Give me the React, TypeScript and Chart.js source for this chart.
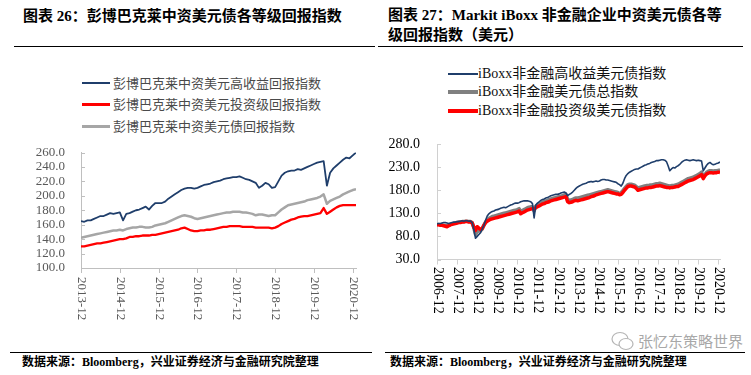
import React, { useEffect, useRef } from "react";
import { Chart, registerables } from "chart.js";
Chart.register(...registerables);

// ---------- Left chart data (monthly, 2013-12 .. 2021-01) ----------
const leftTitle = "图表 26：彭博巴克莱中资美元债各等级回报指数";
const leftNames = ["彭博巴克莱中资美元高收益回报指数", "彭博巴克莱中资美元投资级回报指数", "彭博巴克莱中资美元债回报指数"];
const leftXLabels = ["2013-12", "2014-12", "2015-12", "2016-12", "2017-12", "2018-12", "2019-12", "2020-12"];
const leftHY = [
  165, 164, 166, 166, 168, 170, 172, 172, 174, 176, 175, 176,
  177, 166, 175, 176, 178, 180, 181, 183, 185, 181, 186, 190,
  190, 190, 192, 196, 199, 202, 205, 208, 210, 211, 211, 210,
  211, 213, 215, 216, 217, 219, 220, 221, 223, 224, 225, 226,
  226, 227, 225, 223, 222, 220, 218, 211, 214, 218, 216, 211,
  212, 220, 228, 232, 234, 235, 235, 237, 236, 238, 240, 242,
  244, 246, 247, 248, 214, 232, 238, 242, 246, 250, 253, 252,
  256, 260,
];
const leftIG = [
  130, 130, 131, 132, 133, 134, 134, 135, 136, 137, 138, 139,
  140, 140, 141, 143, 143, 144, 144, 145, 145, 145, 146, 146,
  147, 148, 149, 150, 151, 152, 153, 155, 156, 154, 152, 151,
  151, 152, 152, 153, 153, 154, 155, 156, 157, 157, 158, 158,
  158, 158, 157, 157, 157, 157, 156, 156, 156, 156, 156, 155,
  156, 158, 161, 163, 165, 167, 168, 170, 171, 172, 172, 173,
  174, 175, 176, 183, 175, 178, 181, 184, 186, 187, 187, 187,
  187, 187,
];
const leftAll = [
  142, 143, 144, 145, 146, 147, 148, 149, 150, 151, 152, 152,
  153, 152, 154, 155, 156, 156, 157, 157, 156, 156, 157, 159,
  160, 161, 162, 164, 166, 168, 170, 172, 173, 172, 171, 169,
  168, 169, 170, 171, 172, 173, 174, 175, 176, 177, 177, 178,
  178, 178, 177, 177, 176, 175, 173, 174, 174, 173, 172, 173,
  173, 177, 181, 184, 187, 188, 189, 190, 191, 192, 194, 195,
  196, 197, 199, 202, 189, 193, 195, 197, 199, 202, 204, 206,
  208, 209,
];

// ---------- Right chart data (monthly, 2006-12 .. 2021-01) ----------
const rightTitle1 = "图表 27：Markit iBoxx 非金融企业中资美元债各等";
const rightTitle2 = "级回报指数（美元）";
const rightNames = ["iBoxx非金融高收益美元债指数", "iBoxx非金融美元债总指数", "iBoxx非金融投资级美元债指数"];
const rightXLabels = ["2006-12", "2007-12", "2008-12", "2009-12", "2010-12", "2011-12", "2012-12", "2013-12", "2014-12", "2015-12", "2016-12", "2017-12", "2018-12", "2019-12", "2020-12"];
const rightHY = [
  107, 108, 108, 109, 110, 110, 109, 108, 109, 110, 111, 111,
  112, 112, 113, 114, 113, 114, 114, 113, 113, 110, 95, 76,
  80, 84, 88, 96, 104, 115, 124, 129, 132, 134, 135, 137,
  138, 139, 141, 142, 143, 142, 144, 146, 148, 149, 151, 152,
  152, 153, 155, 156, 157, 157, 157, 156, 155, 151, 120, 148,
  152, 155, 158, 160, 161, 163, 164, 166, 168, 169, 170, 171,
  171, 172, 174, 175, 176, 174, 168, 171, 173, 176, 180, 184,
  187, 189, 191, 193, 194, 195, 197, 198, 199, 198, 199, 200,
  199, 200, 202, 203, 203, 202, 202, 201, 200, 199, 198, 197,
  194, 192, 189, 195, 205, 212, 216, 219, 221, 223, 225, 226,
  226, 228, 230, 232, 234, 235, 237, 238, 240, 241, 242, 244,
  244, 245, 246, 246, 245, 242, 233, 222, 226, 229, 228, 231,
  233, 236, 240, 243, 245, 246, 245, 244, 245, 246, 245, 244,
  245, 244, 243, 222, 228, 234, 238, 240, 237, 235, 236, 238, 239, 241,
];
const rightAll = [
  106, 106, 105, 105, 104, 104, 103, 104, 106, 107, 108, 109,
  110, 111, 111, 112, 112, 113, 113, 112, 112, 110, 98, 84,
  90, 92, 92, 96, 104, 111, 116, 119, 121, 123, 124, 125,
  126, 127, 128, 129, 130, 131, 132, 133, 134, 135, 136, 137,
  138, 140, 134, 136, 138, 140, 142, 143, 144, 144, 135, 146,
  148, 150, 152, 154, 156, 157, 158, 160, 161, 162, 163, 164,
  165, 166, 167, 168, 170, 171, 160, 158, 159, 160, 162, 163,
  163, 164, 165, 166, 167, 168, 169, 170, 171, 172, 173, 174,
  175, 176, 177, 178, 179, 180, 181, 180, 179, 178, 177, 176,
  175, 173, 175, 179, 184, 188, 192, 193, 193, 192, 191, 188,
  185, 186, 187, 188, 189, 190, 190, 191, 191, 192, 193, 194,
  194, 195, 194, 193, 192, 191, 190, 189, 190, 190, 191, 192,
  193, 195, 197, 199, 201, 203, 205, 206, 207, 208, 210, 212,
  214, 216, 219, 208, 214, 219, 221, 222, 222, 221, 222, 222, 223, 223,
];
const rightIG = [
  105, 105, 104, 104, 103, 102, 101, 103, 105, 106, 107, 108,
  109, 110, 110, 111, 111, 112, 112, 111, 111, 109, 100, 93,
  101, 98, 95, 97, 104, 110, 113, 115, 117, 118, 119, 120,
  121, 122, 123, 124, 125, 126, 127, 128, 129, 130, 131, 132,
  133, 135, 129, 131, 133, 135, 137, 138, 139, 140, 139, 142,
  144, 146, 148, 150, 151, 153, 154, 155, 157, 158, 159, 160,
  161, 162, 163, 164, 165, 166, 155, 153, 154, 155, 157, 158,
  157, 158, 159, 160, 161, 162, 163, 164, 166, 167, 168, 170,
  171, 172, 173, 174, 175, 176, 177, 176, 175, 174, 173, 172,
  172, 170, 171, 175, 180, 184, 188, 189, 189, 188, 187, 184,
  180, 181, 182, 183, 184, 185, 185, 186, 186, 187, 188, 189,
  189, 190, 189, 188, 187, 186, 186, 185, 186, 186, 187, 188,
  188, 190, 192, 194, 196, 198, 200, 201, 202, 203, 205, 207,
  209, 211, 214, 205, 211, 215, 217, 218, 218, 217, 218, 218, 219, 218,
];

const sourceText = "数据来源：Bloomberg，兴业证券经济与金融研究院整理";
const watermark = "张忆东策略世界";

type Series = { label: string; data: number[]; color: string; width: number };

type ChartProps = {
  left: number; top: number; width: number; height: number;
  series: Series[];
  xMax: number; yMin: number; yMax: number; yStep: number;
  yAxisWidth: number; padTop: number; padRight: number; xAxisHeight: number;
  yFontSize: number; yColor: string; yPad: number; axisColor: string;
  xLabels: string[]; xFont: string; xColor: string; xLabelOffset: number;
};

function LineChart(p: ChartProps) {
  const ref = useRef<HTMLCanvasElement | null>(null);
  useEffect(() => {
    if (!ref.current) return;
    const tickPlugin = {
      id: "customTicks",
      afterDraw(chart: any) {
        const ctx = chart.ctx;
        const xs = chart.scales.x;
        const ys = chart.scales.y;
        const area = chart.chartArea;
        ctx.save();
        ctx.strokeStyle = p.axisColor;
        ctx.lineWidth = 1;
        for (let i = 0; i < p.xLabels.length; i++) {
          const lab = p.xLabels[i];
          const px = Math.round(xs.getPixelForValue(i * 12)) + 0.5;
          ctx.beginPath();
          ctx.moveTo(px, area.bottom);
          ctx.lineTo(px, area.bottom + 5);
          ctx.stroke();
          ctx.save();
          ctx.translate(px, area.bottom + p.xLabelOffset);
          ctx.rotate(Math.PI / 2);
          ctx.font = p.xFont;
          ctx.fillStyle = p.xColor;
          ctx.textAlign = "left";
          ctx.textBaseline = "middle";
          ctx.fillText(lab, 0, 0);
          ctx.restore();
        }
        for (let v = p.yMin; v <= p.yMax; v += p.yStep) {
          const py = Math.round(ys.getPixelForValue(v)) + 0.5;
          ctx.beginPath();
          ctx.moveTo(area.left, py);
          ctx.lineTo(area.left + 4, py);
          ctx.stroke();
        }
        ctx.restore();
      },
    };
    const chart = new Chart(ref.current, {
      type: "line",
      data: {
        datasets: p.series.map((s) => ({
          label: s.label,
          data: s.data.map((v, i) => ({ x: i, y: v })),
          borderColor: s.color,
          backgroundColor: s.color,
          borderWidth: s.width,
          pointRadius: 0,
          pointHoverRadius: 0,
          tension: 0,
          fill: false,
          borderJoinStyle: "round" as const,
        })),
      },
      options: {
        responsive: false,
        animation: false,
        devicePixelRatio: 1,
        events: [],
        layout: { padding: { top: p.padTop, right: p.padRight, left: 0, bottom: 0 } },
        plugins: { legend: { display: false }, tooltip: { enabled: false } },
        scales: {
          x: {
            type: "linear",
            min: 0,
            max: p.xMax,
            grid: { display: false, drawTicks: false },
            border: { display: true, color: p.axisColor, width: 1 },
            ticks: { display: false, autoSkip: false },
            afterBuildTicks: (s: any) => {
              s.ticks = p.xLabels.map((_, i) => ({ value: i * 12 }));
            },
            afterFit: (s: any) => {
              s.height = p.xAxisHeight;
            },
          },
          y: {
            type: "linear",
            min: p.yMin,
            max: p.yMax,
            grid: { display: false, drawTicks: false },
            border: { display: true, color: p.axisColor, width: 1 },
            ticks: {
              stepSize: p.yStep,
              autoSkip: false,
              font: { family: "'Liberation Serif', serif", size: p.yFontSize, lineHeight: 1 },
              color: p.yColor,
              padding: p.yPad,
              callback: (v: any) => Number(v).toFixed(1),
            },
            afterFit: (s: any) => {
              s.width = p.yAxisWidth;
            },
          },
        },
      } as any,
      plugins: [tickPlugin],
    });
    return () => chart.destroy();
  }, []);
  return (
    <canvas
      ref={ref}
      width={p.width}
      height={p.height}
      style={{ position: "absolute", left: p.left, top: p.top, width: p.width, height: p.height }}
    />
  );
}

function Legend(props: { x: number; lineW: number; textX: number; ys: number[]; names: string[]; colors: string[]; widths: number[]; font: string; size: number; color: string }) {
  return (
    <>
      {props.names.map((n, i) => (
        <React.Fragment key={n}>
          <div
            style={{
              position: "absolute",
              left: props.x,
              top: props.ys[i] - props.widths[i] / 2,
              width: props.lineW,
              height: props.widths[i],
              background: props.colors[i],
            }}
          />
          <div
            style={{
              position: "absolute",
              left: props.textX,
              top: props.ys[i] - 10,
              height: 20,
              lineHeight: "20px",
              fontFamily: props.font,
              fontSize: props.size,
              color: props.color,
              whiteSpace: "nowrap",
            }}
          >
            {n}
          </div>
        </React.Fragment>
      ))}
    </>
  );
}

const titleFont = "'Liberation Serif', 'Noto Sans CJK SC', serif";

export default function App() {
  const blue = "#1F3E6B";
  const red = "#FF0000";
  return (
    <div style={{ position: "absolute", left: 0, top: 0, width: 751, height: 375, background: "#fff", overflow: "hidden" }}>
      {/* titles */}
      <div style={{ position: "absolute", left: 23, top: 6, lineHeight: "20px", fontSize: 15, fontWeight: "bold", fontFamily: titleFont, whiteSpace: "nowrap", color: "#000" }}>
        {leftTitle}
      </div>
      <div style={{ position: "absolute", left: 388, top: 5, lineHeight: "20px", fontSize: 15, fontWeight: "bold", fontFamily: titleFont, whiteSpace: "nowrap", color: "#000" }}>
        <div>{rightTitle1}</div>
        <div>{rightTitle2}</div>
      </div>
      <div style={{ position: "absolute", left: 14, top: 46, width: 361, height: 0, borderTop: "1.5px solid #000" }} />
      <div style={{ position: "absolute", left: 378, top: 46, width: 365, height: 0, borderTop: "1.5px solid #000" }} />

      {/* legends */}
      <Legend
        x={82}
        lineW={28}
        textX={113}
        ys={[83, 104, 126]}
        names={leftNames}
        colors={[blue, red, "#A6A6A6"]}
        widths={[2, 3, 3]}
        font="'Noto Sans CJK SC', sans-serif"
        size={13}
        color="#4a4a4a"
      />
      <Legend
        x={448}
        lineW={30}
        textX={478}
        ys={[74, 92, 111]}
        names={rightNames}
        colors={[blue, "#808080", red]}
        widths={[2, 4, 4]}
        font="'Liberation Serif', 'Noto Sans CJK SC', serif"
        size={14}
        color="#111"
      />

      <LineChart
        left={0}
        top={130}
        width={375}
        height={210}
        series={[
          { label: leftNames[0], data: leftHY, color: blue, width: 1.8 },
          { label: leftNames[1], data: leftIG, color: red, width: 2.3 },
          { label: leftNames[2], data: leftAll, color: "#A6A6A6", width: 2.5 },
        ]}
        xMax={85}
        yMin={100}
        yMax={260}
        yStep={20}
        yAxisWidth={81}
        padTop={20}
        padRight={19}
        xAxisHeight={72}
        yFontSize={13}
        yColor="#595959"
        yPad={16}
        axisColor="#bfbfbf"
        xLabels={leftXLabels}
        xFont="13px 'Liberation Serif', serif"
        xColor="#595959"
        xLabelOffset={9}
      />
      <LineChart
        left={375}
        top={120}
        width={376}
        height={210}
        series={[
          { label: rightNames[0], data: rightHY, color: blue, width: 1.6 },
          { label: rightNames[2], data: rightIG, color: red, width: 3.5 },
          { label: rightNames[1], data: rightAll, color: "#808080", width: 3.5 },
        ]}
        xMax={169}
        yMin={30}
        yMax={280}
        yStep={50}
        yAxisWidth={62}
        padTop={10}
        padRight={31}
        xAxisHeight={70.5}
        yFontSize={14}
        yColor="#000"
        yPad={17}
        axisColor="#d0d0d0"
        xLabels={rightXLabels}
        xFont="14px 'Liberation Serif', serif"
        xColor="#000"
        xLabelOffset={7.5}
      />

      {/* watermark */}
      <svg style={{ position: "absolute", left: 610, top: 330 }} width="26" height="22">
        <ellipse cx="10" cy="9" rx="8" ry="6.5" fill="none" stroke="#b5b5b5" strokeWidth="1.2" />
        <ellipse cx="16" cy="14" rx="7" ry="5.5" fill="#fff" stroke="#b5b5b5" strokeWidth="1.2" />
      </svg>
      <div style={{ position: "absolute", left: 638, top: 330, lineHeight: "22px", fontSize: 15, fontFamily: "'Noto Sans CJK SC', sans-serif", color: "#a8a8a8", whiteSpace: "nowrap" }}>
        {watermark}
      </div>

      {/* bottom rules and sources */}
      <div style={{ position: "absolute", left: 10, top: 352, width: 362, height: 0, borderTop: "1px solid #000" }} />
      <div style={{ position: "absolute", left: 385, top: 352, width: 360, height: 0, borderTop: "1px solid #000" }} />
      <div style={{ position: "absolute", left: 22, top: 354, lineHeight: "16px", fontSize: 12, fontWeight: "bold", fontFamily: titleFont, whiteSpace: "nowrap", color: "#000" }}>
        {sourceText}
      </div>
      <div style={{ position: "absolute", left: 390, top: 354, lineHeight: "16px", fontSize: 12, fontWeight: "bold", fontFamily: titleFont, whiteSpace: "nowrap", color: "#000" }}>
        {sourceText}
      </div>
    </div>
  );
}
